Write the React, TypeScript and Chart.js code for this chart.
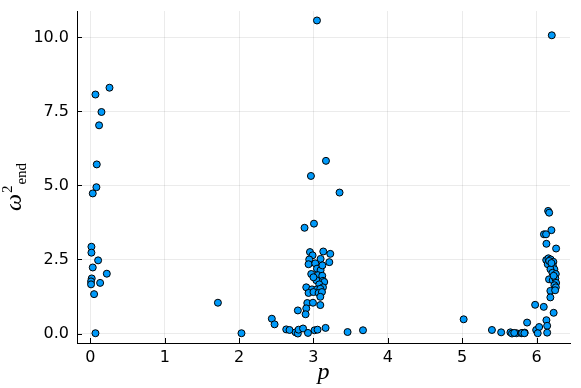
import React, { useEffect, useRef } from "react";
import { Chart, registerables } from "chart.js";

Chart.register(...registerables);

// p values (x) and omega^2_end values (y)
const pValues: number[] = [
  // cluster near p = 0
  0.257, 0.068, 0.149, 0.117, 0.086, 0.081, 0.032, 0.014, 0.014, 0.104, 0.032, 0.221,
  0.018, 0.009, 0.131, 0.009, 0.05, 0.068,
  // singles
  1.715, 2.032,
  // cluster near p = 3
  3.047, 3.168, 2.966, 3.351, 2.88, 3.007, 2.953, 3.132, 3.226, 2.988, 2.943, 3.096,
  3.213, 2.934, 3.024, 3.047, 3.096, 2.97, 3.06, 3.118, 3.038, 3.128, 3.145, 3.078,
  2.903, 3.128, 2.98, 3.047, 3.092, 2.934, 3.0, 3.069, 3.114, 3.092, 2.917, 2.993,
  3.092, 2.79, 2.903, 2.894, 2.44, 2.477, 2.634, 2.678, 2.76, 2.79, 2.8, 2.86,
  2.926, 3.015, 3.055, 3.163, 3.459, 3.666, 3.12, 3.0,
  // cluster near p = 6
  5.02, 5.4, 5.524, 5.649, 5.67, 5.73, 5.797, 5.841, 5.873, 5.981, 6.097, 5.995,
  6.035, 6.016, 6.133, 6.143, 6.143, 6.23, 6.205, 6.156, 6.17, 6.2, 6.1, 6.128,
  6.133, 6.263, 6.13, 6.16, 6.19, 6.226, 6.151, 6.22, 6.24, 6.187, 6.214, 6.259,
  6.168, 6.218, 6.253, 6.263, 6.24, 6.26, 6.186, 6.25, 6.186, 5.806, 5.837, 5.7,
  6.17, 6.2, 6.23,
];

const omegaValues: number[] = [
  8.3, 8.07, 7.48, 7.03, 5.71, 4.94, 4.73, 2.93, 2.73, 2.47, 2.23, 2.02,
  1.86, 1.76, 1.71, 1.66, 1.33, 0.01,
  1.04, 0.01,
  10.57, 5.83, 5.32, 4.76, 3.57, 3.71, 2.75, 2.77, 2.69, 2.64, 2.5, 2.52,
  2.41, 2.34, 2.37, 2.19, 2.14, 2.01, 1.97, 1.95, 1.8, 1.78, 1.74, 1.66,
  1.56, 1.56, 1.49, 1.49, 1.51, 1.37, 1.4, 1.37, 1.4, 1.24, 1.03, 1.04,
  0.96, 0.78, 0.85, 0.65, 0.5, 0.31, 0.14, 0.12, 0.04, 0.0, 0.13, 0.17,
  0.02, 0.11, 0.13, 0.19, 0.05, 0.11, 2.3, 1.9,
  0.48, 0.12, 0.04, 0.04, 0.0, 0.01, 0.01, 0.03, 0.37, 0.97, 0.9, 0.12,
  0.22, 0.01, 0.45, 0.26, 0.03, 0.7, 10.07, 4.14, 4.08, 3.49, 3.35, 3.35,
  3.03, 2.87, 2.48, 2.54, 2.5, 2.42, 2.34, 2.28, 2.17, 2.17, 2.05, 2.01,
  1.83, 1.8, 1.86, 1.71, 1.63, 1.56, 1.44, 1.46, 1.22, 0.02, 0.01, 0.02,
  2.45, 2.38, 1.95,
];

const xTickValues: number[] = [0, 1, 2, 3, 4, 5, 6];
const yTickValues: number[] = [0, 2.5, 5, 7.5, 10];

const TICK_FONT = "DejaVu Sans";

const innerTicks = {
  id: "innerTicks",
  beforeDatasetsDraw(chart: any) {
    const { ctx, chartArea, scales } = chart;
    ctx.save();
    ctx.strokeStyle = "#000";
    ctx.lineWidth = 1;
    ctx.beginPath();
    for (const v of xTickValues) {
      const x = Math.round(scales.x.getPixelForValue(v)) + 0.5;
      ctx.moveTo(x, chartArea.bottom);
      ctx.lineTo(x, chartArea.bottom - 5);
    }
    for (const v of yTickValues) {
      const y = Math.round(scales.y.getPixelForValue(v)) + 0.5;
      ctx.moveTo(chartArea.left, y);
      ctx.lineTo(chartArea.left + 5, y);
    }
    ctx.stroke();
    ctx.restore();
  },
};

const axisLabels = {
  id: "axisLabels",
  afterDraw(chart: any) {
    const { ctx, chartArea } = chart;
    ctx.save();
    ctx.fillStyle = "#000";
    // x label
    ctx.font = "italic 24px 'Liberation Serif'";
    ctx.textAlign = "center";
    ctx.textBaseline = "alphabetic";
    ctx.fillText("p", (chartArea.left + chartArea.right) / 2, 379);
    // y label
    ctx.translate(21, 211);
    ctx.rotate(-Math.PI / 2);
    ctx.textAlign = "left";
    ctx.font = "italic 24px 'Liberation Serif'";
    ctx.fillText("ω", 0, 0);
    const w = ctx.measureText("ω").width;
    ctx.font = "15px 'Liberation Serif'";
    ctx.fillText("2", w + 1, -9);
    const w2 = ctx.measureText("2").width;
    ctx.fillText("end", w + w2 + 2, 5);
    ctx.restore();
  },
};

export default function App() {
  const ref = useRef<HTMLCanvasElement | null>(null);

  useEffect(() => {
    if (!ref.current) return;
    const points = pValues.map((p, i) => ({ x: p, y: omegaValues[i] }));
    const chart = new Chart(ref.current, {
      type: "scatter",
      data: {
        datasets: [
          {
            data: points,
            backgroundColor: "#009AFA",
            borderColor: "#000000",
            borderWidth: 1,
            pointRadius: 3.5,
          },
        ],
      },
      options: {
        animation: false,
        responsive: false,
        devicePixelRatio: 1,
        layout: { padding: { left: 0, top: 11, right: 11, bottom: 0 } },
        plugins: {
          legend: { display: false },
          tooltip: { enabled: false },
        },
        scales: {
          x: {
            type: "linear",
            min: -0.18,
            max: 6.45,
            afterFit: (s: any) => {
              s.height = 45;
              s.paddingLeft = 0;
              s.paddingRight = 0;
            },
            afterBuildTicks: (s: any) => {
              s.ticks = xTickValues.map((v) => ({ value: v }));
            },
            ticks: {
              callback: (v: any) => String(v),
              font: { family: TICK_FONT, size: 16 },
              color: "#000",
              padding: 5,
              maxRotation: 0,
            },
            grid: { color: "rgba(0,0,0,0.08)", lineWidth: 1, drawTicks: false },
            border: { display: true, color: "#000", width: 1 },
          },
          y: {
            type: "linear",
            min: -0.32,
            max: 10.89,
            afterFit: (s: any) => {
              s.width = 77;
              s.paddingTop = 0;
              s.paddingBottom = 0;
            },
            afterBuildTicks: (s: any) => {
              s.ticks = yTickValues.map((v) => ({ value: v }));
            },
            ticks: {
              callback: (v: any) => Number(v).toFixed(1),
              font: { family: TICK_FONT, size: 16 },
              color: "#000",
              padding: 8,
            },
            grid: { color: "rgba(0,0,0,0.08)", lineWidth: 1, drawTicks: false },
            border: { display: true, color: "#000", width: 1 },
          },
        },
      },
      plugins: [innerTicks, axisLabels],
    });
    return () => chart.destroy();
  }, []);

  return (
    <div style={{ position: "fixed", left: 0, top: 0, width: 581, height: 388, background: "#fff" }}>
      <canvas ref={ref} width={581} height={388} style={{ width: 581, height: 388, display: "block" }} />
    </div>
  );
}
